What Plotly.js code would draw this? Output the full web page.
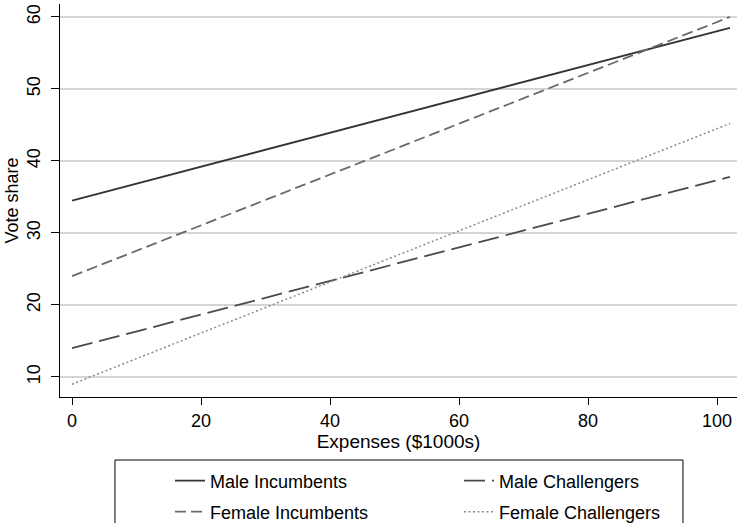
<!DOCTYPE html>
<html>
<head>
<meta charset="utf-8">
<script src="https://cdn.plot.ly/plotly-3.0.1.min.js"></script>
<style>html,body{margin:0;padding:0;background:#fff;}#chart{width:737px;height:523px;}</style>
</head>
<body>
<div id="chart"></div>
<script>
var expenses = [0, 102];
var maleIncumbents = [34.5, 58.5];
var femaleIncumbents = [24.0, 60.0];
var maleChallengers = [14.0, 37.8];
var femaleChallengers = [9.0, 45.2];
var xTicks = [0, 20, 40, 60, 80, 100];
var yTicks = [10, 20, 30, 40, 50, 60];

var font = "Liberation Sans, Arial, Helvetica, sans-serif";
var traces = [
  {x: expenses, y: maleIncumbents, name: "Male Incumbents", mode: "lines", legend: "legend",
   line: {color: "#333333", width: 1.8, dash: "solid"}},
  {x: expenses, y: femaleIncumbents, name: "Female Incumbents", mode: "lines", legend: "legend2",
   line: {color: "#6a6a6a", width: 1.8, dash: "11px,5px"}},
  {x: expenses, y: maleChallengers, name: "Male Challengers", mode: "lines", legend: "legend3",
   line: {color: "#4a4a4a", width: 1.8, dash: "21px,7px"}},
  {x: expenses, y: femaleChallengers, name: "Female Challengers", mode: "lines", legend: "legend4",
   line: {color: "#8a8a8a", width: 1.5, dash: "2px,2.5px"}}
];
function leg(x, y) {
  return {x: x, xanchor: "left", y: y, yanchor: "middle", bgcolor: "rgba(0,0,0,0)",
          borderwidth: 0, font: {family: font, size: 18, color: "#000"}};
}
var layout = {
  width: 737, height: 523,
  margin: {l: 60, r: 0, t: 4, b: 126, autoexpand: false},
  paper_bgcolor: "#fff", plot_bgcolor: "#fff",
  font: {family: font, size: 18, color: "#000"},
  showlegend: true,
  legend: leg(0.1625, -0.2137),
  legend2: leg(0.1625, -0.2926),
  legend3: leg(0.5894, -0.2137),
  legend4: leg(0.5894, -0.2926),
  shapes: [{type: "rect", xref: "paper", yref: "paper",
            x0: 0.0812, x1: 0.9202, y0: -0.1603, y1: -0.330,
            line: {color: "#000", width: 1}, fillcolor: "rgba(0,0,0,0)"}],
  xaxis: {
    range: [-1.86, 103.1], tickvals: xTicks, ticktext: xTicks.map(String),
    showgrid: false, zeroline: false, showline: true, linecolor: "#000", linewidth: 1,
    ticks: "outside", ticklen: 7, tickcolor: "#000",
    tickfont: {family: font, size: 18},
    title: {text: "Expenses ($1000s)", font: {family: font, size: 19}, standoff: 0}
  },
  yaxis: {
    range: [7.22, 61.8], tickvals: yTicks, ticktext: yTicks.map(String),
    tickangle: -90, ticklabelstandoff: 4,
    showgrid: true, gridcolor: "#d4d4d4", gridwidth: 1.5,
    zeroline: false, showline: true, linecolor: "#000", linewidth: 1,
    ticks: "outside", ticklen: 8, tickcolor: "#000",
    tickfont: {family: font, size: 18},
    title: {text: "Vote share", font: {family: font, size: 18}, standoff: 0}
  }
};
Plotly.newPlot("chart", traces, layout, {displayModeBar: false, staticPlot: true});
</script>
</body>
</html>
